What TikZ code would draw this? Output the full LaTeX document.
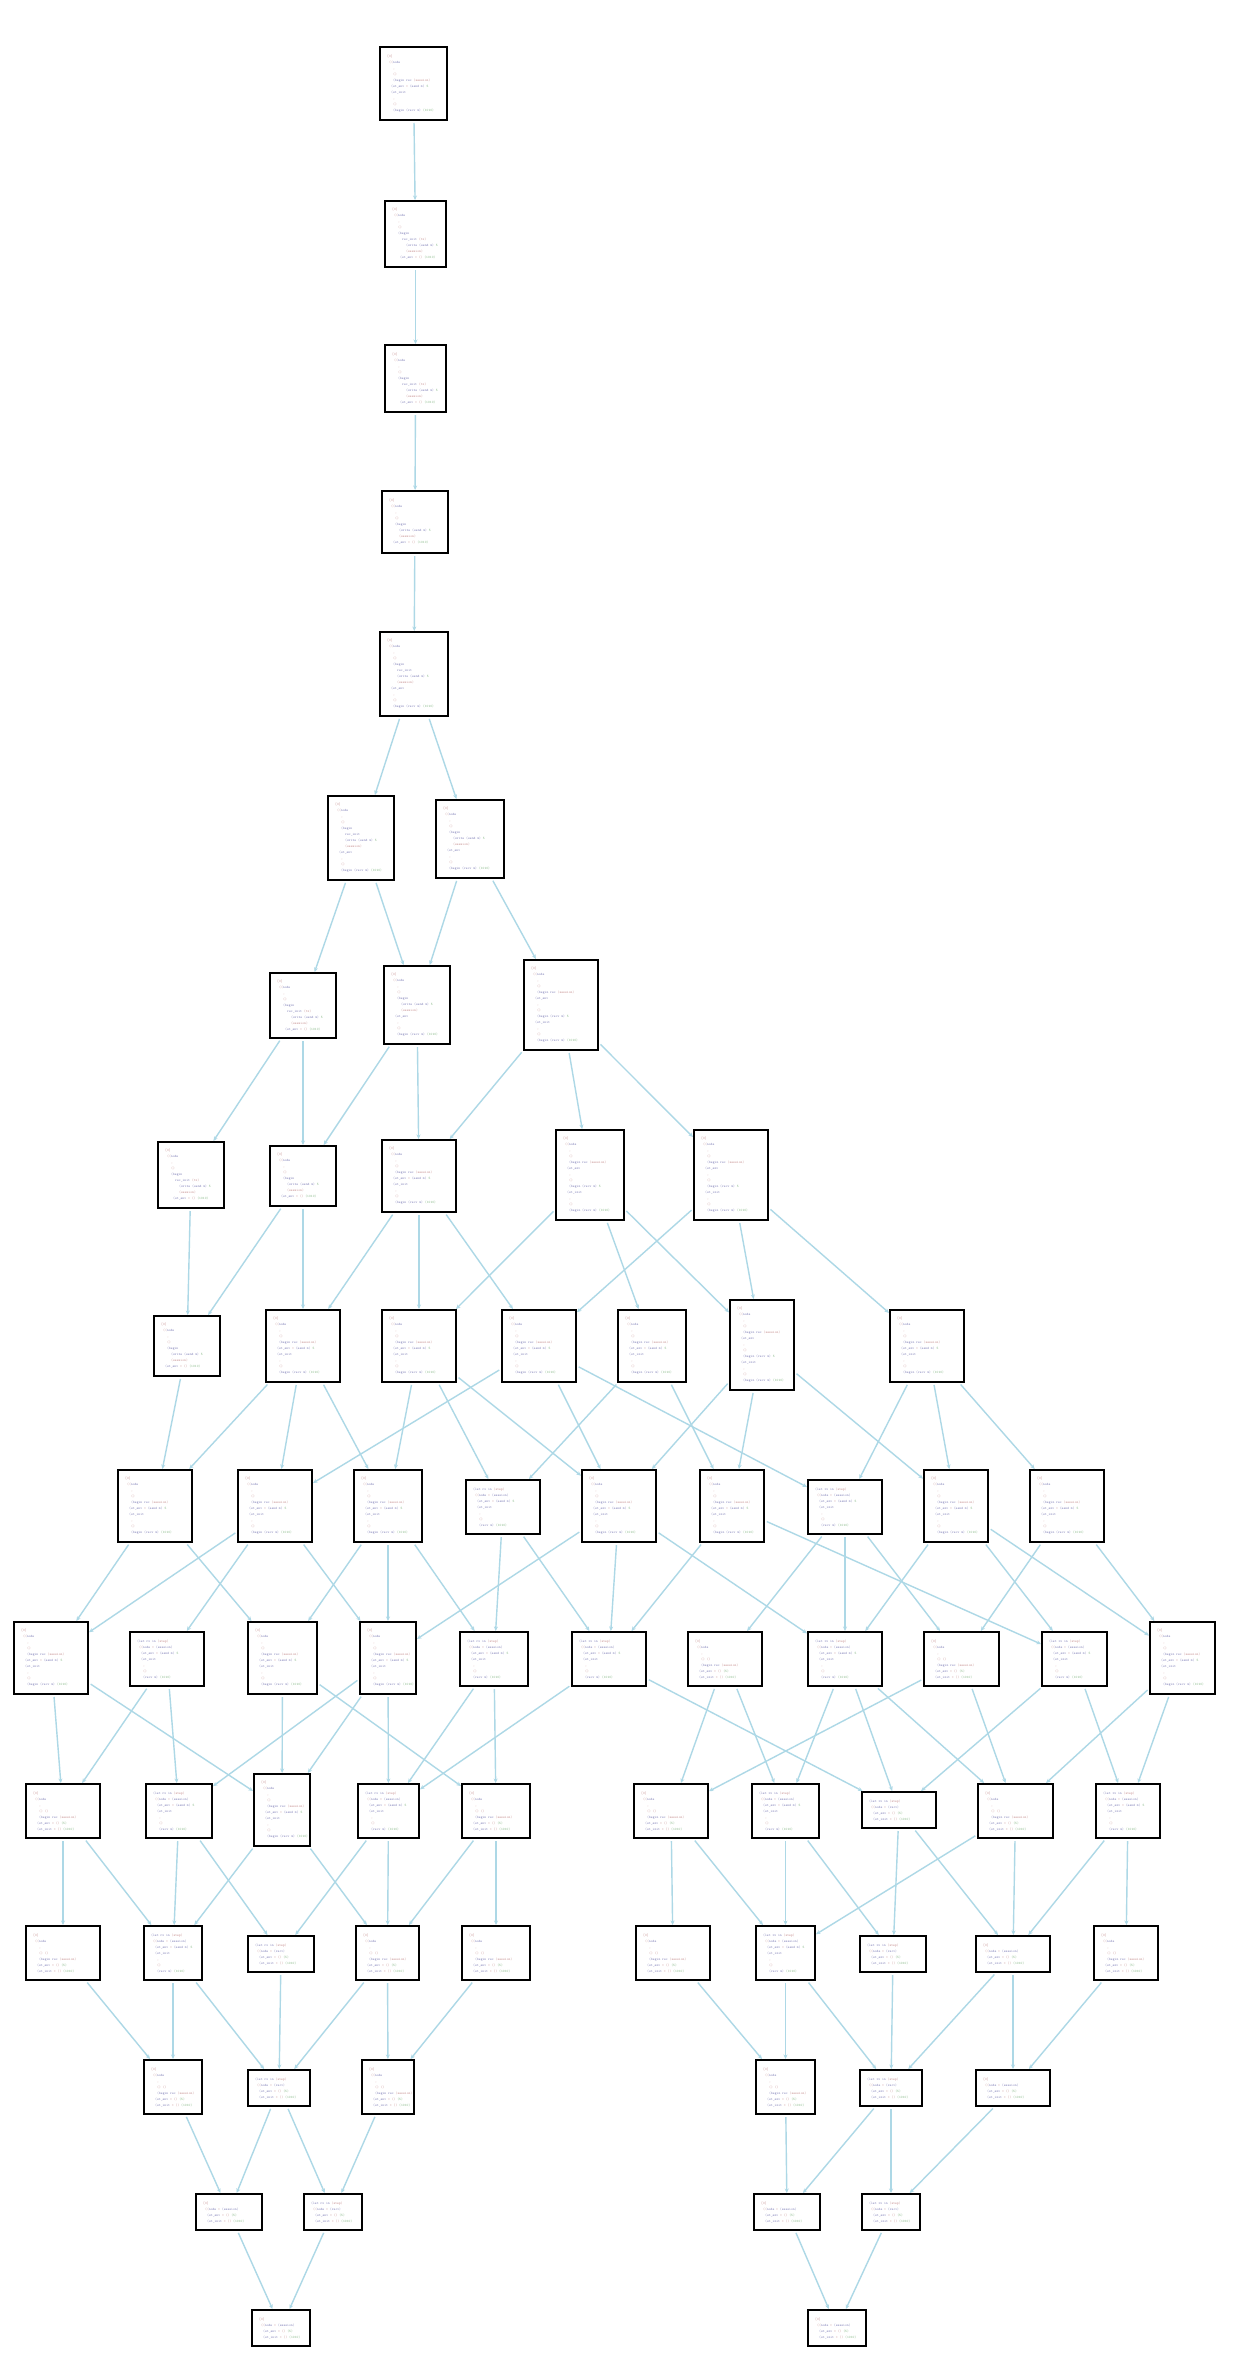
\documentclass[tikz,border=0pt]{standalone}
\usetikzlibrary{arrows.meta}
\definecolor{edgec}{HTML}{ADD8E6}
\definecolor{cp}{HTML}{C99494}
\definecolor{cb}{HTML}{8686BC}
\definecolor{cg}{HTML}{86B886}
\newcommand\kp[1]{\textcolor{cp}{#1}}
\newcommand\kb[1]{\textcolor{cb}{#1}}
\newcommand\kg[1]{\textcolor{cg}{#1}}
\newcommand\Ix[1]{\hspace*{#1pt}}
% text templates
\newcommand\TIV{\kp{[0]}\\\Ix{2}\kp{((}\kb{node} \kp{=} \kb{(session)}\\\Ix{4}\kb{(st\_env} \kp{= ()} \kg{(5)}\\\Ix{4}\kb{(st\_init} \kp{= ()} \kg{(1010)}}
\newcommand\TIVb{\kb{(let rx in} \kp{(step)}\\\Ix{2}\kp{((}\kb{node} \kp{=} \kb{(recv)}\\\Ix{4}\kb{(st\_env} \kp{= ()} \kg{(5)}\\\Ix{4}\kb{(st\_init} \kp{= ()} \kg{(1010)}}
\newcommand\TVII{\kp{[0]}\\\Ix{2}\kp{((}\kb{node}\\\Ix{6}\kp{,}\\\Ix{6}\kp{() ()}\\\Ix{6}\kb{(begin rec} \kp{(session)}\\\Ix{4}\kb{(st\_env} \kp{= ()} \kg{(5)}\\\Ix{4}\kb{(st\_init} \kp{= ()} \kg{(1010)}}
\newcommand\TVIIb{\kb{(let rx in} \kp{(step)}\\\Ix{2}\kp{((}\kb{node} \kp{=} \kb{(session)}\\\Ix{4}\kb{(st\_env} \kp{=} \kb{(send m)} \kg{5}\\\Ix{4}\kb{(st\_init}\\\Ix{6}\kp{,}\\\Ix{6}\kp{()}\\\Ix{6}\kb{(recv m)} \kg{(1010)}}
\newcommand\TVIII{\kp{[0]}\\\Ix{2}\kp{((}\kb{node}\\\Ix{6}\kp{,}\\\Ix{6}\kp{()}\\\Ix{6}\kb{(begin}\\\Ix{10}\kb{(write (send m)} \kg{5}\\\Ix{10}\kp{(session)}\\\Ix{4}\kb{(st\_env} \kp{= ()} \kg{(1010)}}
\newcommand\TIX{\kp{[0]}\\\Ix{2}\kp{((}\kb{node}\\\Ix{6}\kp{,}\\\Ix{6}\kp{()}\\\Ix{6}\kb{(begin}\\\Ix{10}\kb{rec\_init} \kp{(tx)}\\\Ix{14}\kb{(write (send m)} \kg{5}\\\Ix{14}\kp{(session)}\\\Ix{8}\kb{(st\_env} \kp{= ()} \kg{(1010)}}
\newcommand\TX{\kp{[0]}\\\Ix{2}\kp{((}\kb{node}\\\Ix{6}\kp{,}\\\Ix{6}\kp{()}\\\Ix{6}\kb{(begin rec} \kp{(session)}\\\Ix{4}\kb{(st\_env} \kp{=} \kb{(send m)} \kg{5}\\\Ix{4}\kb{(st\_init}\\\Ix{6}\kp{,}\\\Ix{6}\kp{()}\\\Ix{6}\kb{(begin (recv m)} \kg{(1010)}}
\newcommand\TXI{\kp{[0]}\\\Ix{2}\kp{((}\kb{node}\\\Ix{6}\kp{,}\\\Ix{6}\kp{()}\\\Ix{6}\kb{(begin}\\\Ix{10}\kb{(write (send m)} \kg{5}\\\Ix{10}\kp{(session)}\\\Ix{4}\kb{(st\_env}\\\Ix{6}\kp{,}\\\Ix{6}\kp{()}\\\Ix{6}\kb{(begin (recv m)} \kg{(1010)}}
\newcommand\TXII{\kp{[0]}\\\Ix{2}\kp{((}\kb{node}\\\Ix{6}\kp{,}\\\Ix{6}\kp{()}\\\Ix{6}\kb{(begin}\\\Ix{10}\kb{rec\_init}\\\Ix{10}\kb{(write (send m)} \kg{5}\\\Ix{10}\kp{(session)}\\\Ix{4}\kb{(st\_env}\\\Ix{6}\kp{,}\\\Ix{6}\kp{()}\\\Ix{6}\kb{(begin (recv m)} \kg{(1010)}}
\newcommand\TXIII{\kp{[0]}\\\Ix{2}\kp{((}\kb{node}\\\Ix{6}\kp{,}\\\Ix{6}\kp{()}\\\Ix{6}\kb{(begin rec} \kp{(session)}\\\Ix{4}\kb{(st\_env}\\\Ix{6}\kp{,}\\\Ix{6}\kp{()}\\\Ix{6}\kb{(begin (recv m)} \kg{5}\\\Ix{4}\kb{(st\_init}\\\Ix{6}\kp{,}\\\Ix{6}\kp{()}\\\Ix{6}\kb{(begin (recv m)} \kg{(1010)}}
\tikzset{
  gbox/.style={draw=black, line width=2.3pt, fill=white, inner sep=0pt},
  txt/.style={align=left, inner sep=0pt, font={\fontsize{3.5}{6}\selectfont\ttfamily}},
  conn/.style={draw=edgec, line width=1.4pt, -{Stealth[length=4.5pt,width=4pt]}, shorten <=2pt}
}
\newcommand\bx[6]{%
  \pgfmathsetmacro\bxcx{(#2+#4)/2}%
  \pgfmathsetmacro\bxcy{-(#3+#5)/2}%
  \pgfmathsetmacro\bxw{#4-#2-2.3}%
  \pgfmathsetmacro\bxh{#5-#3-2.3}%
  \node[gbox,minimum width=\bxw pt,minimum height=\bxh pt] (#1) at (\bxcx pt,\bxcy pt) {};%
  \node[txt,anchor=west] (#1t) at ([xshift=8pt]#1.west) {#6};%
}
\begin{document}
\begin{tikzpicture}[x=1pt,y=1pt]
\useasboundingbox[fill=white] (0,0) rectangle (1232,-2376);
% rows 1-5
\bx{n1}{379}{46}{448}{121}{\TX}
\bx{n2}{384}{200}{447}{268}{\TIX}
\bx{n3}{384}{344}{447}{413}{\TIX}
\bx{n4}{381}{490}{449}{554}{\TVIII}
\bx{n5}{379}{631}{449}{717}{\TXII}
% row 6
\bx{r6a}{327}{795}{395}{881}{\TXII}
\bx{r6b}{435}{799}{505}{879}{\TXI}
% row 7
\bx{r7a}{269}{972}{337}{1039}{\TIX}
\bx{r7b}{383}{965}{451}{1045}{\TXI}
\bx{r7c}{523}{959}{599}{1051}{\TXIII}
% row 8
\bx{r8a}{157}{1141}{225}{1209}{\TIX}
\bx{r8b}{269}{1145}{337}{1207}{\TVIII}
\bx{r8c}{381}{1139}{457}{1213}{\TX}
\bx{r8d}{555}{1129}{625}{1221}{\TXIII}
\bx{r8e}{693}{1129}{769}{1221}{\TXIII}
% row 9
\bx{r9a}{153}{1315}{221}{1377}{\TVIII}
\bx{r9b}{265}{1309}{341}{1383}{\TX}
\bx{r9c}{381}{1309}{457}{1383}{\TX}
\bx{r9d}{501}{1309}{577}{1383}{\TX}
\bx{r9e}{617}{1309}{687}{1383}{\TX}
\bx{r9f}{729}{1299}{795}{1391}{\TXIII}
\bx{r9g}{889}{1309}{965}{1383}{\TX}
% row 10
\bx{r10a}{117}{1469}{193}{1543}{\TX}
\bx{r10b}{237}{1469}{313}{1543}{\TX}
\bx{r10c}{353}{1469}{423}{1543}{\TX}
\bx{r10d}{465}{1479}{541}{1535}{\TVIIb}
\bx{r10e}{581}{1469}{657}{1543}{\TX}
\bx{r10f}{699}{1469}{765}{1543}{\TX}
\bx{r10g}{807}{1479}{883}{1535}{\TVIIb}
\bx{r10h}{923}{1469}{989}{1543}{\TX}
\bx{r10i}{1029}{1469}{1105}{1543}{\TX}
% row 11
\bx{r11a}{13}{1621}{89}{1695}{\TX}
\bx{r11b}{129}{1631}{205}{1687}{\TVIIb}
\bx{r11c}{247}{1621}{318}{1695}{\TX}
\bx{r11d}{359}{1621}{417}{1695}{\TX}
\bx{r11e}{459}{1631}{529}{1687}{\TVIIb}
\bx{r11f}{571}{1631}{647}{1687}{\TVIIb}
\bx{r11g}{687}{1631}{763}{1687}{\TVII}
\bx{r11h}{807}{1631}{883}{1687}{\TVIIb}
\bx{r11i}{923}{1631}{1000}{1687}{\TVII}
\bx{r11j}{1041}{1631}{1108}{1687}{\TVIIb}
\bx{r11k}{1149}{1621}{1216}{1695}{\TX}
% row 12
\bx{r12a}{25}{1783}{101}{1839}{\TVII}
\bx{r12b}{145}{1783}{213}{1839}{\TVIIb}
\bx{r12c}{253}{1773}{311}{1847}{\TX}
\bx{r12d}{357}{1783}{420}{1839}{\TVIIb}
\bx{r12e}{461}{1783}{531}{1839}{\TVII}
\bx{r12f}{633}{1783}{709}{1839}{\TVII}
\bx{r12g}{751}{1783}{820}{1839}{\TVIIb}
\bx{r12h}{861}{1791}{937}{1829}{\TIVb}
\bx{r12i}{977}{1783}{1054}{1839}{\TVII}
\bx{r12j}{1095}{1783}{1161}{1839}{\TVIIb}
% row 13
\bx{r13a}{25}{1925}{101}{1981}{\TVII}
\bx{r13b}{143}{1925}{203}{1981}{\TVIIb}
\bx{r13c}{247}{1935}{315}{1973}{\TIVb}
\bx{r13d}{355}{1925}{420}{1981}{\TVII}
\bx{r13e}{461}{1925}{531}{1981}{\TVII}
\bx{r13f}{635}{1925}{711}{1981}{\TVII}
\bx{r13g}{755}{1925}{816}{1981}{\TVIIb}
\bx{r13h}{859}{1935}{927}{1973}{\TIVb}
\bx{r13i}{975}{1935}{1051}{1973}{\TIV}
\bx{r13j}{1093}{1925}{1159}{1981}{\TVII}
% row 14
\bx{r14a}{143}{2059}{203}{2115}{\TVII}
\bx{r14b}{247}{2069}{311}{2107}{\TIVb}
\bx{r14c}{361}{2059}{415}{2115}{\TVII}
\bx{r14d}{755}{2059}{816}{2115}{\TVII}
\bx{r14e}{859}{2069}{923}{2107}{\TIVb}
\bx{r14f}{975}{2069}{1051}{2107}{\TIV}
% row 15
\bx{r15a}{195}{2193}{263}{2231}{\TIV}
\bx{r15b}{303}{2193}{363}{2231}{\TIVb}
\bx{r15c}{753}{2193}{821}{2231}{\TIV}
\bx{r15d}{861}{2193}{921}{2231}{\TIVb}
% row 16
\bx{r16a}{251}{2309}{311}{2347}{\TIV}
\bx{r16b}{807}{2309}{867}{2347}{\TIV}
% connectors
\foreach \s/\t in {n1/n2,n2/n3,n3/n4,n4/n5,n5/r6a,n5/r6b,
 r6a/r7a,r6a/r7b,r6b/r7b,r6b/r7c,
 r7a/r8a,r7a/r8b,r7b/r8b,r7b/r8c,r7c/r8c,r7c/r8d,r7c/r8e,
 r8a/r9a,r8b/r9a,r8b/r9b,r8c/r9b,r8c/r9c,r8c/r9d,r8d/r9c,r8d/r9e,r8d/r9f,r8e/r9d,r8e/r9f,r8e/r9g,
 r9a/r10a,r9b/r10a,r9b/r10b,r9b/r10c,r9c/r10c,r9c/r10d,r9c/r10e,r9d/r10b,r9d/r10e,r9d/r10g,r9e/r10d,r9e/r10f,r9f/r10e,r9f/r10f,r9f/r10h,r9g/r10g,r9g/r10h,r9g/r10i,
 r10a/r11a,r10a/r11c,r10b/r11a,r10b/r11b,r10b/r11d,r10c/r11c,r10c/r11d,r10c/r11e,r10d/r11e,r10d/r11f,r10e/r11d,r10e/r11f,r10e/r11h,r10f/r11f,r10f/r11j,r10g/r11g,r10g/r11h,r10g/r11i,r10h/r11h,r10h/r11j,r10h/r11k,r10i/r11i,r10i/r11k,
 r11a/r12a,r11a/r12c,r11b/r12a,r11b/r12b,r11c/r12c,r11c/r12e,r11d/r12b,r11d/r12c,r11d/r12d,r11e/r12d,r11e/r12e,r11f/r12d,r11f/r12h,r11g/r12f,r11g/r12g,r11h/r12g,r11h/r12h,r11h/r12i,r11i/r12f,r11i/r12i,r11j/r12h,r11j/r12j,r11k/r12i,r11k/r12j,
 r12a/r13a,r12a/r13b,r12b/r13b,r12b/r13c,r12c/r13b,r12c/r13d,r12d/r13c,r12d/r13d,r12e/r13d,r12e/r13e,r12f/r13f,r12f/r13g,r12g/r13g,r12g/r13h,r12h/r13h,r12h/r13i,r12i/r13g,r12i/r13i,r12j/r13i,r12j/r13j,
 r13a/r14a,r13b/r14a,r13b/r14b,r13c/r14b,r13d/r14b,r13d/r14c,r13e/r14c,r13f/r14d,r13g/r14d,r13g/r14e,r13h/r14e,r13i/r14e,r13i/r14f,r13j/r14f,
 r14a/r15a,r14b/r15a,r14b/r15b,r14c/r15b,r14d/r15c,r14e/r15c,r14e/r15d,r14f/r15d,
 r15a/r16a,r15b/r16a,r15c/r16b,r15d/r16b}
 \draw[conn] (\s) -- (\t);
\end{tikzpicture}
\end{document}
